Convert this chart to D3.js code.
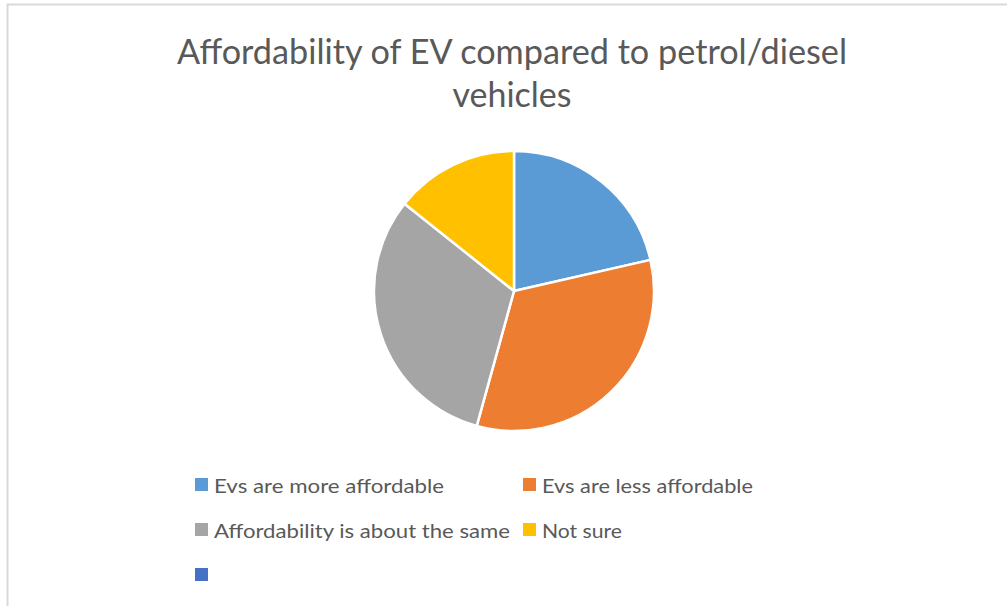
<!DOCTYPE html>
<html>
<head>
<meta charset="utf-8">
<script src="https://cdn.jsdelivr.net/npm/d3@7"></script>
<style>
  html, body { margin: 0; padding: 0; background: #ffffff; }
  svg { display: block; }
</style>
</head>
<body>
<svg id="chart" width="1007" height="606"></svg>
<script>
// Survey responses: affordability of EVs vs petrol/diesel vehicles
const categories = [
  "Evs are more affordable",
  "Evs are less affordable",
  "Affordability is about the same",
  "Not sure",
  ""
];
const responses = [15, 23, 22, 10, 0];
const palette = ["#5B9BD5", "#ED7D31", "#A5A5A5", "#FFC000", "#4472C4"];
const titleLines = ["Affordability of EV compared to petrol/diesel", "vehicles"];

const width = 1007, height = 606;
const svg = d3.select("#chart");
const font = "Lato, 'Open Sans', sans-serif";
const textColor = "#595959";

// chart area frame (top and left edges visible)
svg.append("rect")
  .attr("x", 7.5).attr("y", 4.5)
  .attr("width", width + 10).attr("height", height + 10)
  .attr("fill", "#ffffff")
  .attr("stroke", "#D9D9D9")
  .attr("stroke-width", 2);

// title
const titleWidths = [670, 119];
svg.append("g").selectAll("text")
  .data(titleLines)
  .join("text")
  .attr("x", 512)
  .attr("y", (d, i) => 64 + i * 43)
  .attr("text-anchor", "middle")
  .attr("font-family", font)
  .attr("font-weight", 400)
  .attr("font-size", 34)
  .attr("fill", textColor)
  .attr("textLength", (d, i) => titleWidths[i])
  .attr("lengthAdjust", "spacingAndGlyphs")
  .text(d => d);

// pie
const color = d3.scaleOrdinal().domain(categories).range(palette);
const pie = d3.pie().sort(null).value(d => d.value);
const arc = d3.arc().innerRadius(0).outerRadius(140);
const data = categories.map((c, i) => ({ name: c, value: responses[i] }));

svg.append("g")
  .attr("transform", "translate(514,291)")
  .selectAll("path")
  .data(pie(data).filter(d => d.value > 0))
  .join("path")
  .attr("d", arc)
  .attr("fill", d => color(d.data.name))
  .attr("stroke", "#ffffff")
  .attr("stroke-width", 2.5)
  .attr("stroke-linejoin", "round");

// legend: two columns, wrapping rows
const colX = [195, 523];
const rowY = [478, 523, 568];
const labelWidths = [230, 211, 296, 80, 0];
const legend = svg.append("g").selectAll("g")
  .data(data)
  .join("g")
  .attr("transform", (d, i) => `translate(${colX[i % 2]},${rowY[Math.floor(i / 2)]})`);

legend.append("rect")
  .attr("width", 13).attr("height", 13)
  .attr("fill", d => color(d.name));

legend.filter(d => d.name !== "")
  .append("text")
  .attr("x", 19)
  .attr("y", 15)
  .attr("font-family", font)
  .attr("font-size", 19)
  .attr("fill", textColor)
  .attr("textLength", (d, i) => labelWidths[i])
  .attr("lengthAdjust", "spacingAndGlyphs")
  .text(d => d.name);
</script>
</body>
</html>
